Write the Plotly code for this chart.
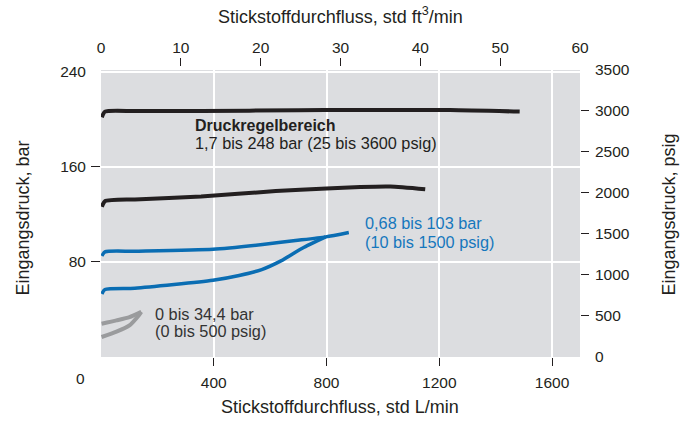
import plotly.graph_objects as go

# flow in std L/min, inlet pressure in bar
hi_x = [3, 14, 120, 355, 700, 885, 1238, 1485]
hi_y = [201.5, 206.3, 206.8, 206.9, 207.4, 207.7, 207.6, 206.3]

mid_x = [3, 14, 120, 355, 620, 800, 920, 1026, 1150]
mid_y = [126.3, 131, 132.5, 135, 139.5, 141.7, 143, 143.4, 141.1]

blue_up_x = [3, 14, 120, 397, 573, 690, 797, 879]
blue_up_y = [85.0, 88.4, 88.9, 90.6, 94.6, 97.9, 101, 104.7]

blue_lo_x = [3, 14, 120, 397, 490, 570, 640, 714, 797]
blue_lo_y = [53.0, 56.7, 57.8, 64.5, 68.5, 73.5, 81, 91.5, 101]

gray_up_x = [2, 55, 101, 143]
gray_up_y = [28, 30.8, 33.5, 37.9]

gray_lo_x = [2, 55, 101, 136, 143]
gray_lo_y = [16.8, 21.3, 26.6, 35.6, 37.9]

x_ticks = [400, 800, 1200, 1600]
x2_ticks = [0, 10, 20, 30, 40, 50, 60]
y_ticks = [80, 160, 240]
y2_ticks = [0, 500, 1000, 1500, 2000, 2500, 3000, 3500]

FONT = "Liberation Sans, Arial, sans-serif"
BLACK = "#231f20"
BLUE = "#0a6db3"
GRAY = "#9a9b9d"

fig = go.Figure()


def curve(x, y, color, w):
    fig.add_trace(go.Scatter(x=x, y=y, mode="lines", showlegend=False,
                             line=dict(color=color, width=w, shape="spline", smoothing=0.6),
                             hoverinfo="skip"))


curve(hi_x, hi_y, BLACK, 4)
curve(mid_x, mid_y, BLACK, 4)
curve(blue_up_x, blue_up_y, BLUE, 3.5)
curve(blue_lo_x, blue_lo_y, BLUE, 3.5)
curve(gray_up_x, gray_up_y, GRAY, 4)
curve(gray_lo_x, gray_lo_y, GRAY, 4)

fig.update_layout(
    template="none",
    width=690, height=421,
    margin=dict(l=100.5, r=109.5, t=66, b=64),
    paper_bgcolor="white",
    plot_bgcolor="#dcdde0",
    font=dict(family=FONT, size=15.5, color=BLACK),
    xaxis=dict(range=[0, 1699], tickvals=x_ticks, ticks="outside", ticklen=8,
               tickwidth=1.3, tickcolor=BLACK, showgrid=True, gridcolor="white",
               gridwidth=1.5, zeroline=False, showline=False, ticklabelstandoff=3,
               automargin=False),
    xaxis2=dict(range=[0, 60], tickvals=x2_ticks, overlaying="x", side="top",
                anchor="free", position=1, ticks="", showgrid=False, zeroline=False,
                showline=False, ticklabelstandoff=10, automargin=False,
                minor=dict(tickvals=[10.0001, 20.0001, 30.0001, 40.0001, 50.0001],
                           ticks="outside", ticklen=8, tickwidth=1.3, tickcolor=BLACK)),
    yaxis=dict(range=[0, 241.3], domain=[0, 0.9863], tickvals=y_ticks, ticks="",
               showgrid=True, gridcolor="white", gridwidth=1.5, zeroline=False,
               showline=False, ticklabelstandoff=14, automargin=False,
               minor=dict(tickvals=[80.0001, 160.0001], ticks="outside", ticklen=9,
                          tickwidth=1.3, tickcolor=BLACK, showgrid=False)),
    yaxis2=dict(range=[0, 3500], tickvals=y2_ticks, overlaying="y", side="right",
                ticks="", showgrid=False, zeroline=False, showline=False,
                ticklabelstandoff=14, automargin=False,
                minor=dict(tickvals=[500.001, 1000.001, 1500.001, 2000.001, 2500.001, 3000.001],
                           ticks="outside", ticklen=8, tickwidth=1.3, tickcolor=BLACK,
                           showgrid=False)),
)

# a trace on the secondary axes so they get drawn
fig.add_trace(go.Scatter(x=[None], y=[None], xaxis="x2", yaxis="y2", showlegend=False))

ann = dict(showarrow=False, font=dict(family=FONT, size=18, color=BLACK))
fig.add_annotation(text="Stickstoffdurchfluss, std L/min", xref="paper", yref="paper",
                   x=0.499, y=-0.172, xanchor="center", yanchor="middle", **ann)
fig.add_annotation(text="Stickstoffdurchfluss, std ft<sup>3</sup>/min", xref="paper", yref="paper",
                   x=0.499, y=1.175, xanchor="center", yanchor="middle", **ann)
fig.add_annotation(text="Eingangsdruck, bar", xref="paper", yref="paper", textangle=-90,
                   x=-0.1635, y=0.478, xanchor="center", yanchor="middle", **ann)
fig.add_annotation(text="Eingangsdruck, psig", xref="paper", yref="paper", textangle=-90,
                   x=1.186, y=0.49, xanchor="center", yanchor="middle", **ann)
# shared origin label, set off to the lower left of the plot
fig.add_annotation(text="0", xref="paper", yref="paper", x=-0.0427, y=-0.0722, showarrow=False,
                   xanchor="center", yanchor="middle", font=dict(family=FONT, size=15.5, color=BLACK))

lbl = dict(showarrow=False, xref="x", yref="y", xanchor="left", yanchor="middle")
fig.add_annotation(text="<b>Druckregelbereich</b>", x=327, y=194.8,
                   font=dict(family=FONT, size=16, color=BLACK), **lbl)
fig.add_annotation(text="1,7 bis 248 bar (25 bis 3600 psig)", x=327, y=179.6,
                   font=dict(family=FONT, size=16.3, color=BLACK), **lbl)
fig.add_annotation(text="0,68 bis 103 bar", x=930, y=113.0,
                   font=dict(family=FONT, size=16.3, color="#1577bd"), **lbl)
fig.add_annotation(text="(10 bis 1500 psig)", x=930, y=97.0,
                   font=dict(family=FONT, size=16.3, color="#1577bd"), **lbl)
fig.add_annotation(text="0 bis 34,4 bar", x=186, y=36.4,
                   font=dict(family=FONT, size=16.3, color="#333333"), **lbl)
fig.add_annotation(text="(0 bis 500 psig)", x=186, y=22.1,
                   font=dict(family=FONT, size=16.3, color="#333333"), **lbl)

# drop the browser's default body margin so the figure sits at the page corner
fig.write_html("out.html", config={"displayModeBar": False},
               post_script="document.body.style.margin='0px';")
